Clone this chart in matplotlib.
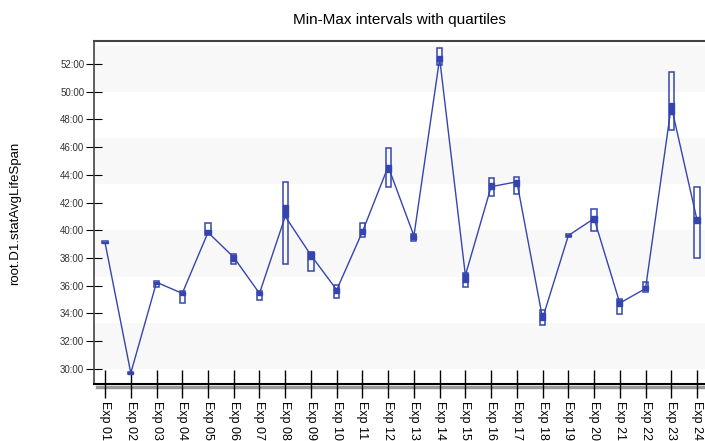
import matplotlib
matplotlib.use("Agg")
import matplotlib.pyplot as plt
from matplotlib.patches import Rectangle
from matplotlib.lines import Line2D

# Données
experiences = [f"Exp {i:02d}" for i in range(1, 25)]
minimos = [39.05, 29.6, 35.9, 34.75, 39.65, 37.55, 35.0, 37.55, 37.05, 35.1, 39.55, 43.15,
           39.25, 51.95, 35.9, 42.45, 42.65, 33.2, 39.55, 39.95, 33.95, 35.55, 47.25, 38.0]
q1 = [39.08, 29.65, 36.1, 35.3, 39.75, 37.8, 35.3, 40.95, 37.9, 35.5, 39.75, 44.2,
      39.4, 52.2, 36.3, 43.0, 43.2, 33.55, 39.58, 40.6, 34.55, 35.7, 48.4, 40.5]
medianas = [39.1, 29.7, 36.25, 35.45, 39.85, 38.05, 35.45, 41.0, 38.2, 35.7, 39.9, 44.6,
            39.6, 52.4, 36.75, 43.15, 43.5, 33.65, 39.62, 40.85, 34.75, 35.8, 48.95, 40.75]
q3 = [39.15, 29.75, 36.3, 35.55, 40.0, 38.2, 35.55, 41.8, 38.4, 35.85, 40.1, 44.7,
      39.65, 52.6, 36.85, 43.4, 43.6, 34.0, 39.66, 41.0, 34.95, 36.0, 49.2, 40.95]
maximos = [39.2, 29.8, 36.35, 35.65, 40.55, 38.3, 35.65, 43.5, 38.45, 36.05, 40.5, 45.95,
           39.7, 53.15, 36.9, 43.8, 43.85, 34.25, 39.7, 41.55, 35.05, 36.25, 51.4, 43.15]
yticks = list(range(30, 54, 2))

cor = '#3545b0'
plt.rcParams['font.family'] = ['Liberation Sans', 'DejaVu Sans']

fig = plt.figure(figsize=(7.05, 4.41), dpi=100)
ax = fig.add_axes([94 / 705, 1 - 384 / 441, 1 - 94 / 705, (384 - 41) / 441])

# faixas de fundo
faixa = 10 / 3
for k in range(4):
    base = 30 + 2 * k * faixa
    ax.axhspan(base, base + faixa, color='#f8f8f8', zorder=0, lw=0)

x = list(range(len(experiences)))
ax.plot(x, medianas, color=cor, lw=1.0, zorder=3)

meia = 0.1
for i in x:
    ax.add_patch(Rectangle((i - meia, minimos[i]), 2 * meia, maximos[i] - minimos[i],
                           fill=False, edgecolor=cor, lw=1.1, zorder=4))
    ax.add_patch(Rectangle((i - meia, q1[i]), 2 * meia, q3[i] - q1[i],
                           facecolor=cor, edgecolor=cor, lw=1.0, zorder=4))

ax.set_xlim(-0.43, 23.31)
ax.set_ylim(28.91, 53.66)
ax.set_yticks(yticks)
ax.set_yticklabels([f"{v}:00" for v in yticks], fontsize=7, color='#333333')
ax.set_xticks(x)
ax.set_xticklabels(experiences, rotation=-90, fontsize=9)
ax.tick_params(axis='y', direction='inout', length=12, width=0.8, pad=1)
ax.tick_params(axis='x', direction='inout', length=20, width=1.0, pad=2)

ax.spines['right'].set_visible(False)
ax.spines['top'].set_color('#444444')
ax.spines['top'].set_linewidth(1.5)
ax.spines['left'].set_color('#444444')
ax.spines['left'].set_linewidth(1.2)
ax.spines['bottom'].set_linewidth(1.5)
fig.add_artist(Line2D([97 / 705, 1], [1 - 386.5 / 441] * 2, color='#999999', lw=2.5, zorder=0))

ax.set_title('Min-Max intervals with quartiles', fontsize=11, pad=12)
fig.text(15 / 705, 1 - 213 / 441, 'root.D1.statAvgLifeSpan', rotation=90, fontsize=9.5,
         ha='center', va='center')

fig.savefig('out.png', dpi=100)
